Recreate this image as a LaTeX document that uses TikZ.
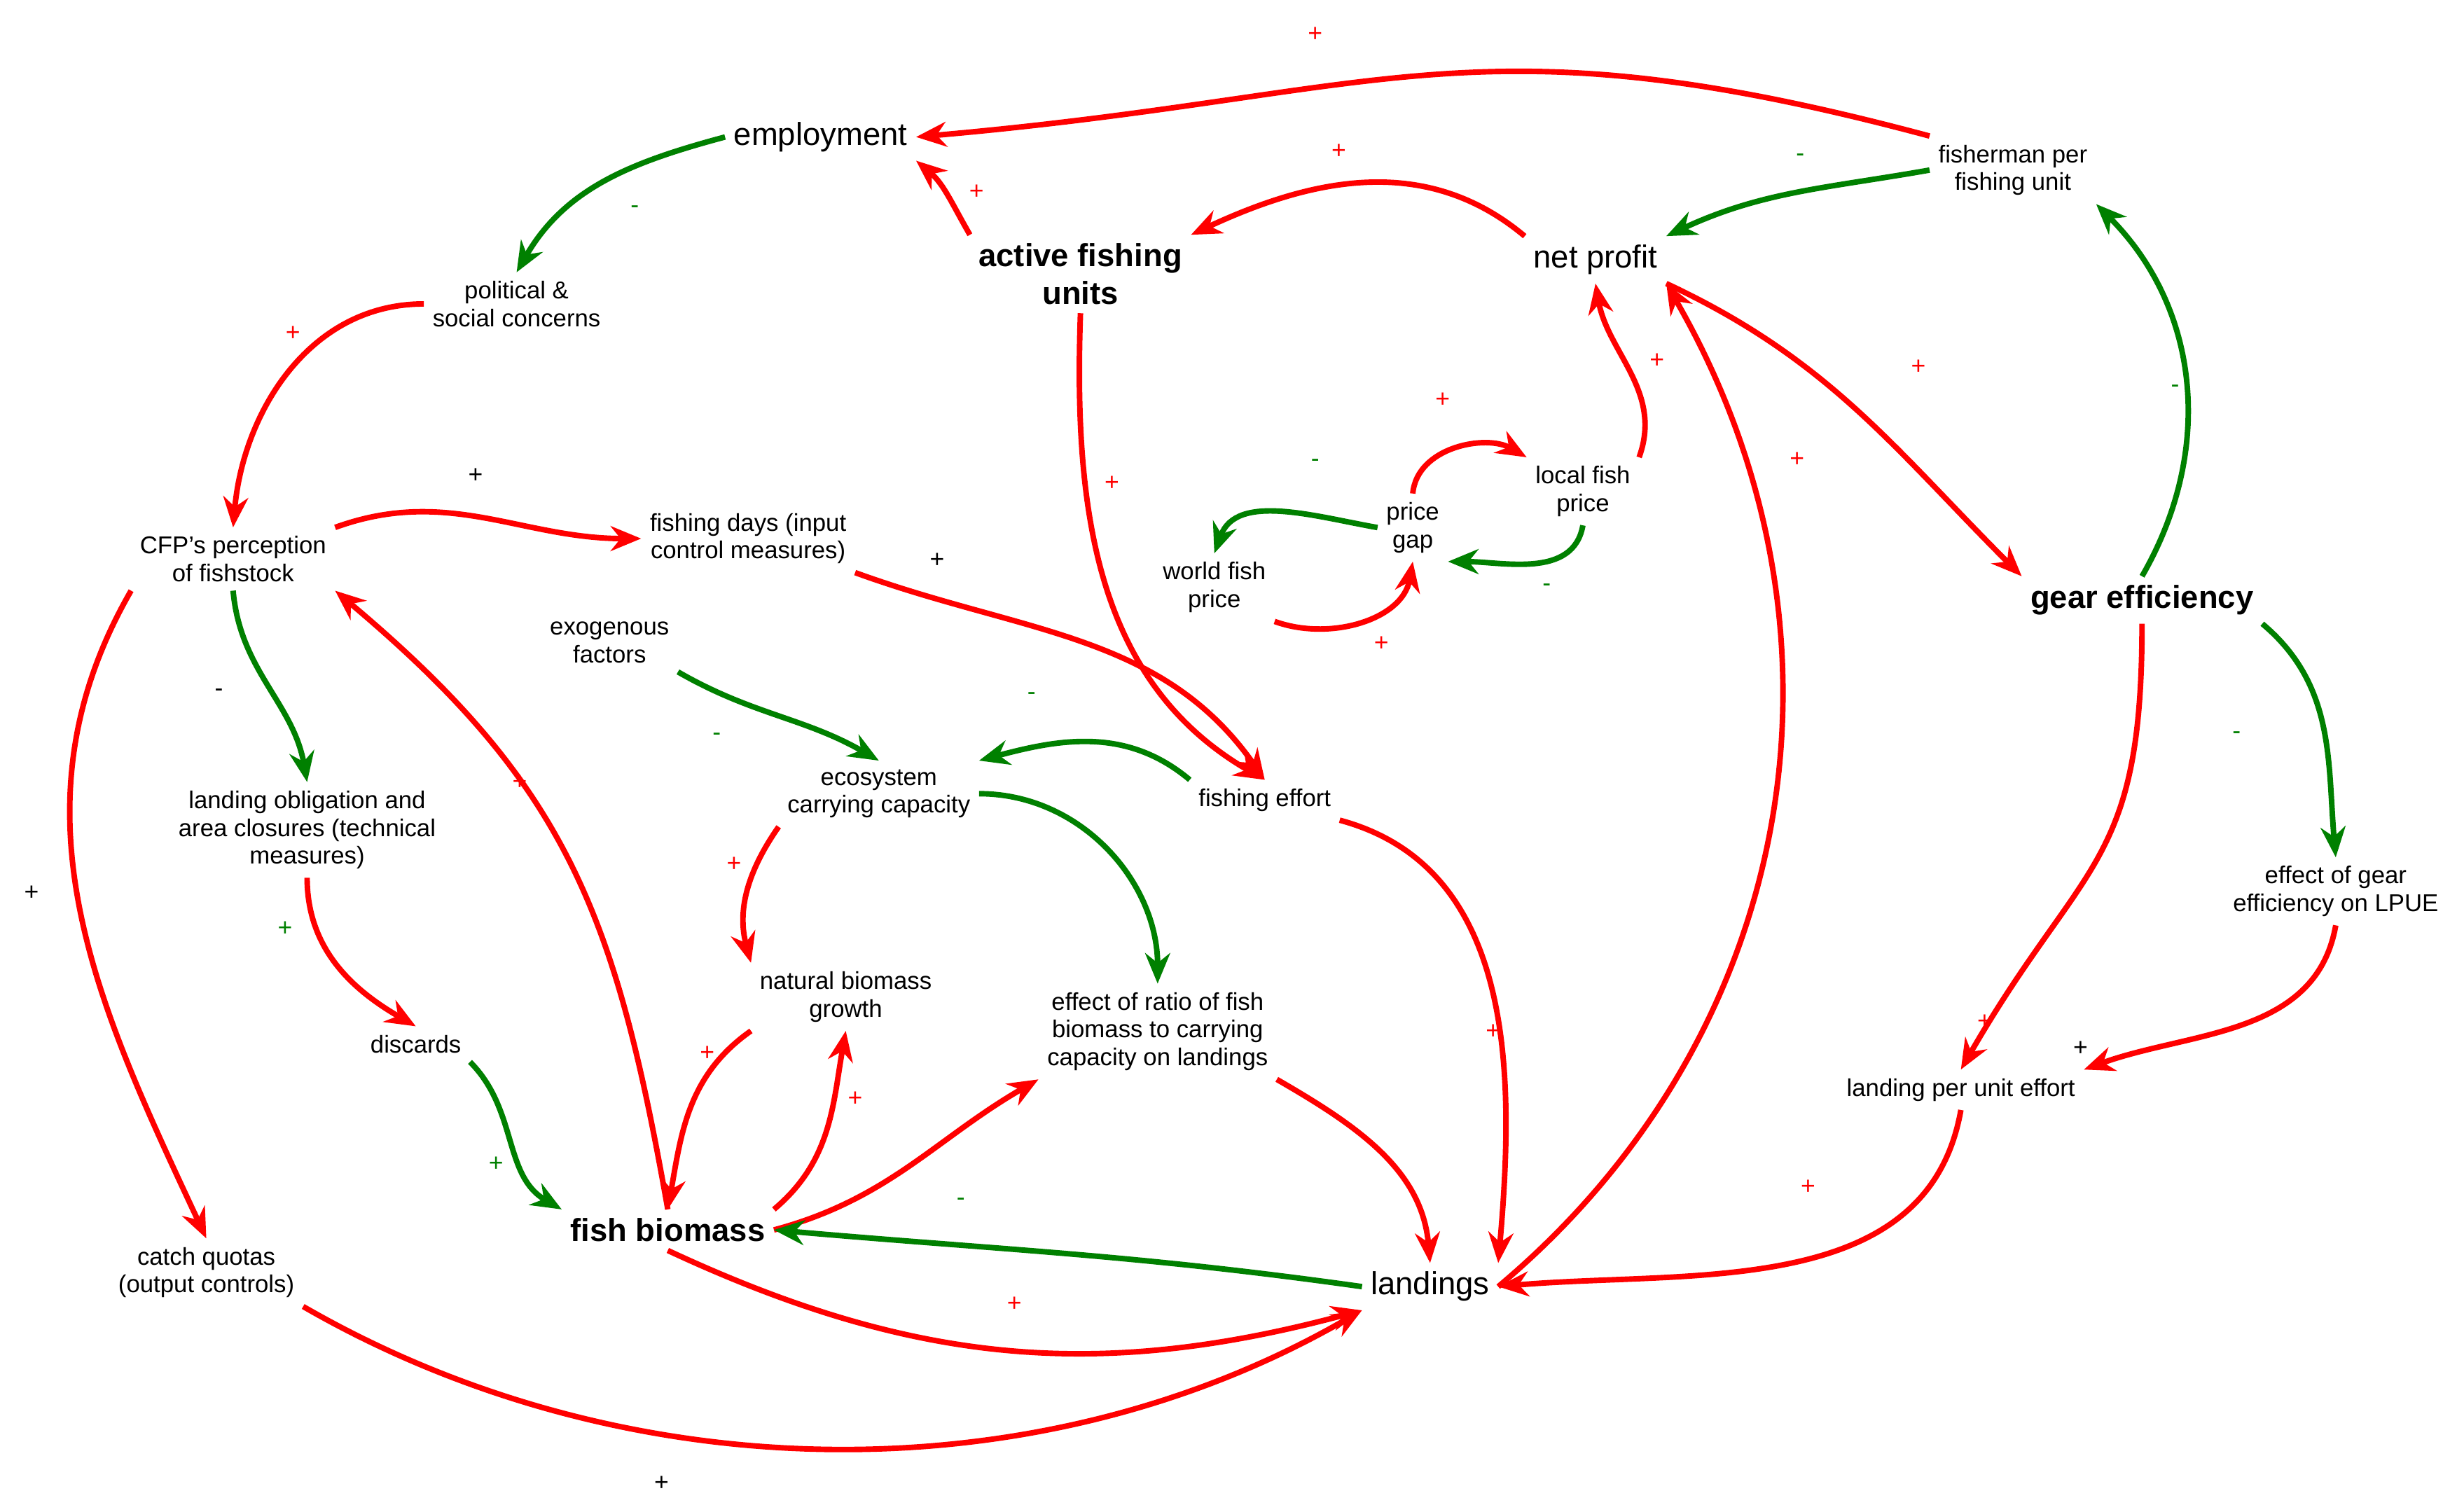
\documentclass[tikz,border=0pt]{standalone}
\usepackage{fontspec}
\setmainfont{Liberation Sans}
\usetikzlibrary{arrows.meta}
\begin{document}
\begin{tikzpicture}[x=0.02cm,y=0.02cm,
  v/.style={font=\fontsize{8.8}{10}\selectfont,align=center,inner sep=3pt},
  V/.style={font=\fontsize{11.5}{13}\selectfont,align=center,inner sep=3pt},
  B/.style={font=\fontsize{11.5}{13.5}\selectfont\bfseries,align=center,inner sep=3pt},
  r/.style={draw=red,line width=2pt,-{Stealth[length=11pt,width=9pt]}},
  g/.style={draw=green!50!black,line width=2pt,-{Stealth[length=11pt,width=9pt]}},
  lr/.style={text=red,font=\fontsize{9}{10}\selectfont},
  lg/.style={text=green!50!black,font=\fontsize{9}{10}\selectfont},
  lk/.style={text=black,font=\fontsize{9}{10}\selectfont}]
\useasboundingbox[fill=white] (0,0) rectangle (1560,960);
\node[V] (employment) at (521,873) {employment};
\node[v] (political) at (328,767) {political \&\\social concerns};
\node[B] (active) at (686,786) {active fishing\\units};
\node[V] (netprofit) at (1013,795) {net profit};
\node[v] (fisherman) at (1278,852) {fisherman per\\fishing unit};
\node[v] (cfp) at (148,605) {CFP's perception\\of fishstock};
\node[v] (fdays) at (475,618) {fishing days (input\\control measures)};
\node[v] (exo) at (387,552) {exogenous\\factors};
\node[v] (world) at (771,587) {world fish\\price};
\node[v] (gap) at (897,625) {price\\gap};
\node[v] (local) at (1005,648) {local fish\\price};
\node[B] (gear) at (1360,579) {gear efficiency};
\node[v] (eco) at (558,456) {ecosystem\\carrying capacity};
\node[v] (effort) at (803,452) {fishing effort};
\node[v] (lobl) at (195,433) {landing obligation and\\area closures (technical\\measures)};
\node[v] (nbg) at (537,327) {natural biomass\\growth};
\node[v] (ratio) at (735,305) {effect of ratio of fish\\biomass to carrying\\capacity on landings};
\node[v] (egl) at (1483,394) {effect of gear\\efficiency on LPUE};
\node[v] (disc) at (264,297) {discards};
\node[v] (lpue) at (1245,268) {landing per unit effort};
\node[B] (fb) at (424,179) {fish biomass};
\node[V] (land) at (908,143) {landings};
\node[v] (quota) at (131,152) {catch quotas\\(output controls)};

\draw[r] (fisherman.north west) to[out=165,in=5,looseness=1.2] (employment.east);
\draw[g] (employment.west) to[out=195,in=60] (political.north);
\draw[r] (active.north west) to[out=120,in=-40] (employment.south east);
\draw[r] (netprofit.north west) to[out=140,in=25] (active.north east);
\draw[g] (fisherman.west) to[out=190,in=25] (netprofit.north east);
\draw[r] (political.west) to[out=180,in=85] (cfp.north);
\draw[r] (cfp.north east) to[out=20,in=180] (fdays.west);
\draw[r] (fdays.south east) to[out=-20,in=125] (effort.north);
\draw[r] (active.south) to[out=-92,in=150] (effort.north);
\draw[g] (cfp.south) to[out=-85,in=100] (lobl.north);
\draw[r] (cfp.south west) to[out=-120,in=115] (quota.north);
\draw[r] (fb.north) to[out=100,in=-40,looseness=1.1] (cfp.south east);
\draw[g] (exo.south east) to[out=-30,in=150] (eco.north);
\draw[g] (effort.north west) to[out=140,in=15] (eco.north east);
\draw[r] (eco.south west) to[out=-125,in=105] (nbg.north west);
\draw[g] (eco.east) to[out=0,in=90] (ratio.north);
\draw[r] (lobl.south) to[out=-90,in=150] (disc.north);
\draw[g] (disc.south east) to[out=-45,in=150] (fb.north west);
\draw[r] (nbg.south west) to[out=-145,in=80] (fb.north);
\draw[r] (fb.north east) to[out=40,in=-100] (nbg.south);
\draw[r] (fb.east) to[out=15,in=-150] (ratio.south west);
\draw[g] (land.west) to[out=172,in=-5] (fb.east);
\draw[r] (fb.south) to[out=-25,in=195] (land.south west);
\draw[r] (quota.south east) to[out=-30,in=210,looseness=0.9] (land.south west);
\draw[r] (ratio.south east) to[out=-30,in=95] (land.north);
\draw[r] (effort.south east) to[out=-15,in=85] (land.north east);
\draw[r] (land.east) to[out=40,in=-60] (netprofit.south east);
\draw[r] (netprofit.south east) to[out=-25,in=135] (gear.north west);
\draw[g] (gear.north) to[out=60,in=-45] (fisherman.south east);
\draw[r] (gear.south) to[out=-90,in=60,looseness=1.3] (lpue.north);
\draw[g] (gear.south east) to[out=-40,in=95] (egl.north);
\draw[r] (egl.south) to[out=-100,in=20] (lpue.north east);
\draw[r] (lpue.south) to[out=-100,in=5] (land.east);
\draw[r] (local.north east) to[out=70,in=-80] (netprofit.south);
\draw[r] (gap.north) to[out=85,in=150] (local.north west);
\draw[g] (local.south) to[out=-100,in=0] (gap.south east);
\draw[g] (gap.west) to[out=170,in=70] (world.north);
\draw[r] (world.south east) to[out=-20,in=-100] (gap.south);

\node[lr] at (835,938) {+};
\node[lg] at (403,827) {-};
\node[lr] at (620,838) {+};
\node[lr] at (850,864) {+};
\node[lg] at (1143,860) {-};
\node[lr] at (186,748) {+};
\node[lk] at (302,658) {+};
\node[lk] at (595,604) {+};
\node[lr] at (706,653) {+};
\node[lk] at (139,520) {-};
\node[lk] at (20,393) {+};
\node[lr] at (330,463) {+};
\node[lg] at (455,492) {-};
\node[lg] at (655,518) {-};
\node[lr] at (466,411) {+};
\node[lg] at (181,370) {+};
\node[lg] at (315,221) {+};
\node[lr] at (449,291) {+};
\node[lr] at (543,262) {+};
\node[lg] at (610,197) {-};
\node[lr] at (644,132) {+};
\node[lk] at (420,18) {+};
\node[lr] at (948,305) {+};
\node[lr] at (1141,668) {+};
\node[lr] at (1218,727) {+};
\node[lg] at (1381,713) {-};
\node[lr] at (1260,311) {+};
\node[lg] at (1420,493) {-};
\node[lk] at (1321,294) {+};
\node[lr] at (1148,206) {+};
\node[lr] at (1052,731) {+};
\node[lr] at (916,706) {+};
\node[lg] at (982,587) {-};
\node[lg] at (835,666) {-};
\node[lr] at (877,551) {+};
\end{tikzpicture}
\end{document}
